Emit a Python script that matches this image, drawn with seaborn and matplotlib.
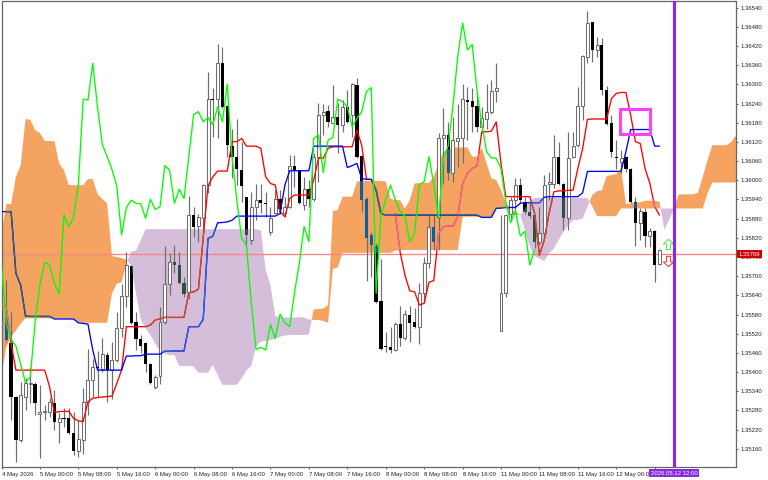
"""
Ichimoku chart of an hourly forex pair, drawn the way the trading terminal shows it.
Prices are kept as points above BASE_PRICE (1 point = 0.00001).
"""

import numpy as np
import matplotlib
matplotlib.use("Agg")          # non-interactive backend
import matplotlib.pyplot as plt
from matplotlib.path import Path
from matplotlib.patches import Rectangle
import seaborn as sns

BASE_PRICE = 1.35
POINT = 0.00001

# ── Candles ─────────────────────────────────────────────────────────────────
opens = [
    592, 573, 490, 323, 187, 323, 361, 364, 268, 274,
    276, 302, 245, 256, 255, 208, 154, 187, 307, 375,
    417, 411, 453, 406, 437, 537, 639, 732, 557, 503,
    492, 424, 354, 387, 557, 675, 743, 735, 679, 650,
    891, 857, 883, 985, 1254, 1254, 1366, 1234, 1108, 1074,
    1032, 947, 813, 917, 938, 929, 839, 899, 941, 899,
    917, 1045, 1029, 923, 972, 940, 1074, 1206, 1218, 1180,
    1197, 1173, 1230, 1204, 1298, 1076, 940, 829, 795, 622,
    482, 479, 469, 550, 505, 580, 557, 540, 648, 742,
    855, 886, 1131, 1142, 1024, 1124, 1131, 1251, 1248, 1232,
    1168, 1191, 1215, 1279, 529, 646, 896, 938, 985, 933,
    902, 891, 808, 834, 987, 988, 1074, 990, 881, 1072,
    1110, 1234, 1387, 1495, 1408, 1423, 1284, 1178, 1074, 1056,
    1074, 1037, 933, 867, 902, 826, 841, 737,
]
highs = [
    610, 688, 589, 325, 370, 380, 417, 370, 359, 297,
    318, 344, 271, 286, 286, 276, 250, 349, 472, 440,
    466, 505, 464, 495, 589, 677, 776, 735, 589, 516,
    495, 427, 391, 604, 794, 771, 797, 776, 698, 952,
    917, 896, 990, 1340, 1288, 1428, 1416, 1236, 1162, 1191,
    1121, 949, 964, 990, 990, 965, 917, 969, 969, 949,
    1079, 1079, 1032, 1011, 1001, 1084, 1241, 1239, 1235, 1298,
    1241, 1251, 1284, 1305, 1319, 1078, 949, 839, 805, 754,
    524, 540, 557, 606, 594, 606, 599, 679, 761, 896,
    896, 1147, 1225, 1181, 1199, 1239, 1303, 1291, 1288, 1277,
    1230, 1303, 1314, 1366, 891, 891, 949, 1006, 1006, 949,
    933, 893, 917, 1016, 1025, 1142, 1121, 992, 1152, 1152,
    1291, 1392, 1530, 1497, 1449, 1444, 1295, 1204, 1126, 1095,
    1076, 1039, 949, 912, 912, 850, 843, 784,
]
lows = [
    545, 495, 250, 119, 182, 281, 302, 265, 130, 250,
    260, 218, 177, 229, 205, 140, 135, 142, 265, 323,
    323, 401, 305, 317, 432, 510, 604, 550, 469, 458,
    401, 364, 346, 364, 550, 641, 709, 677, 636, 630,
    823, 808, 834, 959, 1136, 1131, 1225, 1074, 1006, 985,
    933, 792, 800, 876, 897, 886, 829, 896, 896, 886,
    912, 980, 926, 907, 917, 935, 996, 1142, 1168, 1178,
    1086, 1152, 1178, 1136, 1069, 902, 685, 696, 615, 469,
    464, 460, 466, 481, 500, 495, 537, 487, 615, 726,
    782, 782, 990, 1001, 996, 1042, 1055, 1126, 1152, 1152,
    1147, 1162, 1209, 1246, 529, 636, 880, 896, 928, 896,
    881, 787, 797, 830, 938, 975, 985, 844, 844, 1069,
    1105, 1188, 1368, 1371, 1387, 1267, 1173, 1074, 1037, 1022,
    1027, 928, 795, 813, 792, 792, 683, 735,
]
closes = [
    560, 500, 323, 187, 328, 365, 367, 304, 274, 277,
    307, 245, 255, 253, 208, 154, 189, 307, 375, 417,
    414, 455, 406, 437, 537, 639, 735, 552, 502, 481,
    424, 367, 385, 557, 675, 743, 735, 679, 644, 891,
    855, 884, 985, 1254, 1251, 1366, 1228, 1112, 1074, 1034,
    982, 829, 915, 938, 928, 926, 881, 941, 909, 917,
    1046, 1032, 928, 972, 943, 1074, 1206, 1215, 1183, 1197,
    1173, 1230, 1183, 1301, 1074, 938, 818, 797, 618, 471,
    477, 469, 549, 505, 581, 554, 542, 648, 740, 855,
    808, 1131, 1142, 1024, 1126, 1134, 1254, 1246, 1230, 1168,
    1194, 1215, 1279, 1290, 646, 890, 938, 985, 938, 902,
    888, 808, 834, 985, 996, 1074, 987, 881, 1069, 1107,
    1234, 1389, 1493, 1408, 1425, 1282, 1176, 1089, 1070, 1069,
    1037, 933, 867, 905, 826, 841, 735, 782,
]

# ── Ichimoku lines ──────────────────────────────────────────────────────────
tenkan = [
    604, 604, 490, 406, 406, 406, 406, 406, 406, 406,
    354, 273, 276, 277, 277, 255, 247, 245, 307, 318,
    320, 322, 323, 325, 364, 406, 542, 542, 542, 542,
    542, 547, 563, 566, 571, 571, 571, 571, 571, 648,
    651, 659, 820, 983, 1011, 1029, 1029, 1029, 1121, 1121,
    1131, 1107, 1107, 1107, 1100, 1011, 990, 985, 902, 886,
    943, 954, 954, 954, 954, 1001, 1069, 1069, 1100, 1105,
    1105, 1105, 1105, 1105, 1157, 1110, 1003, 1003, 969, 896,
    891, 891, 895, 775, 703, 654, 651, 610, 615, 681,
    686, 834, 855, 857, 857, 886, 990, 1022, 1037, 1045,
    1152, 1152, 1154, 1183, 1053, 949, 949, 949, 949, 949,
    949, 897, 766, 813, 896, 964, 967, 967, 969, 969,
    1037, 1100, 1191, 1192, 1192, 1192, 1192, 1256, 1272, 1275,
    1275, 1204, 1121, 1115, 1037, 990, 917, 891,
]
kijun = [
    902, 902, 902, 709, 672, 575, 574, 574, 574, 574,
    574, 566, 566, 566, 566, 566, 554, 552, 550, 469,
    406, 406, 406, 406, 406, 406, 450, 450, 451, 451,
    456, 456, 456, 456, 465, 465, 466, 466, 466, 542,
    542, 542, 565, 818, 825, 867, 868, 870, 875, 888,
    888, 888, 888, 888, 888, 888, 888, 888, 896, 985,
    1030, 1030, 1030, 1030, 1030, 1107, 1107, 1107, 1107, 1107,
    1107, 1107, 1040, 1046, 1053, 1006, 1003, 1003, 969, 896,
    891, 891, 891, 891, 891, 891, 891, 891, 891, 891,
    891, 891, 891, 891, 891, 891, 891, 891, 891, 891,
    884, 884, 884, 912, 913, 915, 915, 915, 928, 930,
    930, 930, 930, 947, 949, 949, 949, 949, 949, 949,
    949, 961, 1028, 1028, 1028, 1028, 1028, 1028, 1028, 1028,
    1089, 1159, 1159, 1159, 1159, 1159, 1107, 1107,
]
span_a = [
    834, 926, 926, 1011, 1048, 1192, 1189, 1157, 1149, 1123,
    1123, 1123, 1053, 1032, 985, 985, 985, 985, 1004, 1004,
    957, 941, 928, 763, 760, 757, 752, 735, 646, 563,
    537, 516, 490, 464, 458, 453, 453, 419, 419, 419,
    417, 398, 398, 398, 422, 391, 360, 360, 360, 360,
    380, 406, 419, 480, 495, 497, 500, 505, 511, 514,
    516, 516, 516, 516, 518, 596, 597, 599, 610, 904,
    907, 949, 949, 949, 996, 998, 998, 998, 998, 998,
    996, 943, 938, 938, 912, 938, 990, 992, 992, 992,
    1011, 1053, 1089, 1097, 1102, 1103, 1103, 1103, 1074, 1074,
    1103, 1053, 1006, 1001, 970, 929, 907, 902, 891, 845,
    792, 763, 755, 748, 771, 787, 813, 839, 860, 876,
    876, 881, 917, 954, 966, 969, 1014, 1016, 1020, 1037,
    926, 928, 931, 931, 936, 936, 936, 933, 846, 876,
    912, 956, 956, 956, 956, 961, 1011, 1063, 1110, 1110,
    1110, 1110, 1121, 1142,
]
span_b = [
    391, 479, 510, 530, 552, 568, 568, 568, 568, 568,
    568, 568, 568, 568, 568, 568, 557, 554, 554, 554,
    554, 554, 554, 646, 677, 680, 740, 776, 780, 813,
    847, 847, 847, 847, 847, 847, 847, 847, 847, 847,
    847, 847, 847, 847, 847, 847, 847, 847, 847, 847,
    847, 847, 847, 847, 844, 719, 672, 575, 571, 571,
    571, 571, 571, 571, 565, 563, 563, 560, 554, 724,
    727, 773, 773, 773, 773, 773, 773, 773, 773, 773,
    773, 773, 780, 782, 782, 782, 782, 782, 782, 782,
    782, 782, 782, 782, 782, 782, 886, 886, 886, 886,
    886, 886, 886, 912, 913, 913, 898, 891, 891, 913,
    933, 945, 945, 945, 945, 945, 945, 945, 945, 945,
    945, 945, 945, 919, 888, 888, 888, 888, 888, 912,
    912, 912, 912, 912, 912, 912, 912, 912, 912, 912,
    912, 912, 912, 912, 912, 912, 912, 959, 993, 993,
    993, 993, 993, 993,
]
CHIKOU_SHIFT = 26

# ── Axis labels and chart objects ───────────────────────────────────────────
x_tick_bars = [0, 8, 16, 24, 32, 40, 48, 56, 64, 72, 80, 88, 96, 104, 112, 120, 128, 136]
x_tick_labels = [
    "4 May 2026", "5 May 00:00", "5 May 08:00", "5 May 16:00", "6 May 00:00",
    "6 May 08:00", "6 May 16:00", "7 May 00:00", "7 May 08:00", "7 May 16:00",
    "8 May 00:00", "8 May 08:00", "8 May 16:00", "11 May 00:00", "11 May 08:00",
    "11 May 16:00", "12 May 00:00", "",
]
y_ticks = [
    1.36540, 1.36480, 1.36420, 1.36360, 1.36300, 1.36240, 1.36180, 1.36120,
    1.36060, 1.36000, 1.35940, 1.35880, 1.35820, 1.35760, 1.35700, 1.35640,
    1.35580, 1.35520, 1.35460, 1.35400, 1.35340, 1.35280, 1.35220, 1.35160,
]
last_price = 1.35769
cursor_bar = 140
cursor_label = "2026.05.12 12:00"
box_bars = (128.7, 135.1)
box_points = (1145, 1223)
arrow_bar = 138.8
arrow_up_point = 801
arrow_down_point = 747

# ── Colours ─────────────────────────────────────────────────────────────────
ORANGE = "#F4A460"
THISTLE = "#D5BEDA"
WICK = "#6E6E6E"


def to_price(points):
    return BASE_PRICE + np.asarray(points, dtype=float) * POINT


def draw_candles(ax, clip=None, body_color="black"):
    # with clip set, only the filled bodies are redrawn inside the cloud
    o, h, l, c = map(to_price, (opens, highs, lows, closes))
    bars = np.arange(len(o))
    down = c < o
    if clip is None:
        ax.vlines(bars, l, h, color=WICK, linewidth=0.85, zorder=3)
        ax.bar(bars[~down], (c - o)[~down], bottom=o[~down], width=0.62,
               facecolor="white", edgecolor=WICK, linewidth=0.75, zorder=4)
    bodies = ax.bar(bars[down], (o - c)[down], bottom=c[down], width=0.68,
                    color=body_color, linewidth=0, zorder=5 if clip is None else 6)
    if clip is not None:
        for patch in bodies:
            patch.set_clip_path(clip, ax.transData)


def draw_line(ax, x, values, color, clip=None, zorder=7):
    sns.lineplot(x=x, y=to_price(values), color=color, linewidth=0.95, ax=ax,
                 estimator=None, errorbar=None, legend=False, zorder=zorder)
    line = ax.lines[-1]
    if clip is not None:
        line.set_clip_path(clip, ax.transData)
    return line


sns.set_theme(style="white")
plt.rcParams["font.family"] = ["Liberation Sans", "DejaVu Sans"]

fig = plt.figure(figsize=(7.68, 4.80), dpi=100, facecolor="white")
ax = fig.add_axes([1.5 / 768, 12.7 / 480, 734.5 / 768, 465.8 / 480])

cloud_bars = np.arange(len(span_a))
a = to_price(span_a)
b = to_price(span_b)
orange_poly = ax.fill_between(cloud_bars, a, b, where=a >= b, interpolate=True,
                              color=ORANGE, linewidth=0, zorder=1)
purple_poly = ax.fill_between(cloud_bars, a, b, where=a <= b, interpolate=True,
                              color=THISTLE, linewidth=0, zorder=1)
orange_clip = Path.make_compound_path(*orange_poly.get_paths())
purple_clip = Path.make_compound_path(*purple_poly.get_paths())

ax.axhline(last_price, color="#F08A8A", linewidth=1.0, zorder=2)

draw_candles(ax)

bars = np.arange(len(closes))
draw_line(ax, bars, tenkan, "#FF0000")
draw_line(ax, bars, kijun, "#0000FF")

# the terminal paints the cloud in xor mode, so marks change colour inside it
draw_candles(ax, clip=orange_clip, body_color="#0F5F9F")
draw_candles(ax, clip=purple_clip, body_color="#2F4F3F")
draw_line(ax, bars, tenkan, "#F0709A", clip=orange_clip, zorder=8)
draw_line(ax, bars, tenkan, "#C0503A", clip=purple_clip, zorder=8)
draw_line(ax, bars, kijun, "#2A6468", clip=orange_clip, zorder=8)
draw_line(ax, bars, kijun, "#3A5FD0", clip=purple_clip, zorder=8)

chikou = closes[CHIKOU_SHIFT:]
draw_line(ax, np.arange(len(chikou)), chikou, "#00FF00", zorder=9)

# signal box and arrows
box = Rectangle((box_bars[0], to_price(box_points[0])), box_bars[1] - box_bars[0],
                to_price(box_points[1]) - to_price(box_points[0]),
                fill=False, edgecolor="#FF40FF", linewidth=2.2, zorder=10)
ax.add_patch(box)

up_arrow = Path([(-0.4, 0.1), (-1, 0.1), (0, 1), (1, 0.1), (0.4, 0.1), (0.4, -1), (-0.4, -1), (-0.4, 0.1)])
down_arrow = Path([(-0.4, -0.1), (-1, -0.1), (0, -1), (1, -0.1), (0.4, -0.1), (0.4, 1), (-0.4, 1), (-0.4, -0.1)])
ax.scatter([arrow_bar], to_price([arrow_up_point]), marker=up_arrow, s=55,
           facecolor="white", edgecolor="#40F040", linewidth=0.7, zorder=11)
ax.scatter([arrow_bar], to_price([arrow_down_point]), marker=down_arrow, s=55,
           facecolor="white", edgecolor="#FF3030", linewidth=0.7, zorder=11)

ax.axvline(cursor_bar, color="#8A2BE2", linewidth=2.3, zorder=12)

# ── Axes ────────────────────────────────────────────────────────────────────
ax.set_xlim(0.1, 152.93)
ax.set_ylim(to_price(101.8), to_price(1559.7))
ax.set_xlabel("")
ax.set_ylabel("")

ax.set_xticks(x_tick_bars)
ax.set_xticklabels(x_tick_labels, ha="left", fontsize=4.3, color="#222222")
ax.set_yticks(y_ticks)
ax.set_yticklabels([f"{t:.5f}" for t in y_ticks], fontsize=4.3, color="#222222")
ax.yaxis.tick_right()
ax.tick_params(axis="x", length=1.6, width=0.6, pad=1.6, color="#444444", bottom=True)
ax.tick_params(axis="y", length=1.6, width=0.6, pad=1.6, color="#444444", right=True)

for spine in ax.spines.values():
    spine.set_color("#666666")
    spine.set_linewidth(0.9)
    spine.set_visible(True)

ax.annotate(f"{last_price:.5f}", xy=(1, last_price), xycoords=("axes fraction", "data"),
            xytext=(2.0, 0), textcoords="offset points", ha="left", va="center",
            fontsize=4.3, color="white", zorder=20, annotation_clip=False,
            bbox=dict(boxstyle="square,pad=0.25", facecolor="#D00000", edgecolor="none"))
ax.annotate(cursor_label, xy=(cursor_bar, 0), xycoords=("data", "axes fraction"),
            xytext=(0, -4.2), textcoords="offset points", ha="center", va="center",
            fontsize=4.3, color="white", zorder=20, annotation_clip=False,
            bbox=dict(boxstyle="square,pad=0.25", facecolor="#8A2BE2", edgecolor="none"))

fig.savefig("out.png", dpi=100, facecolor="white")
